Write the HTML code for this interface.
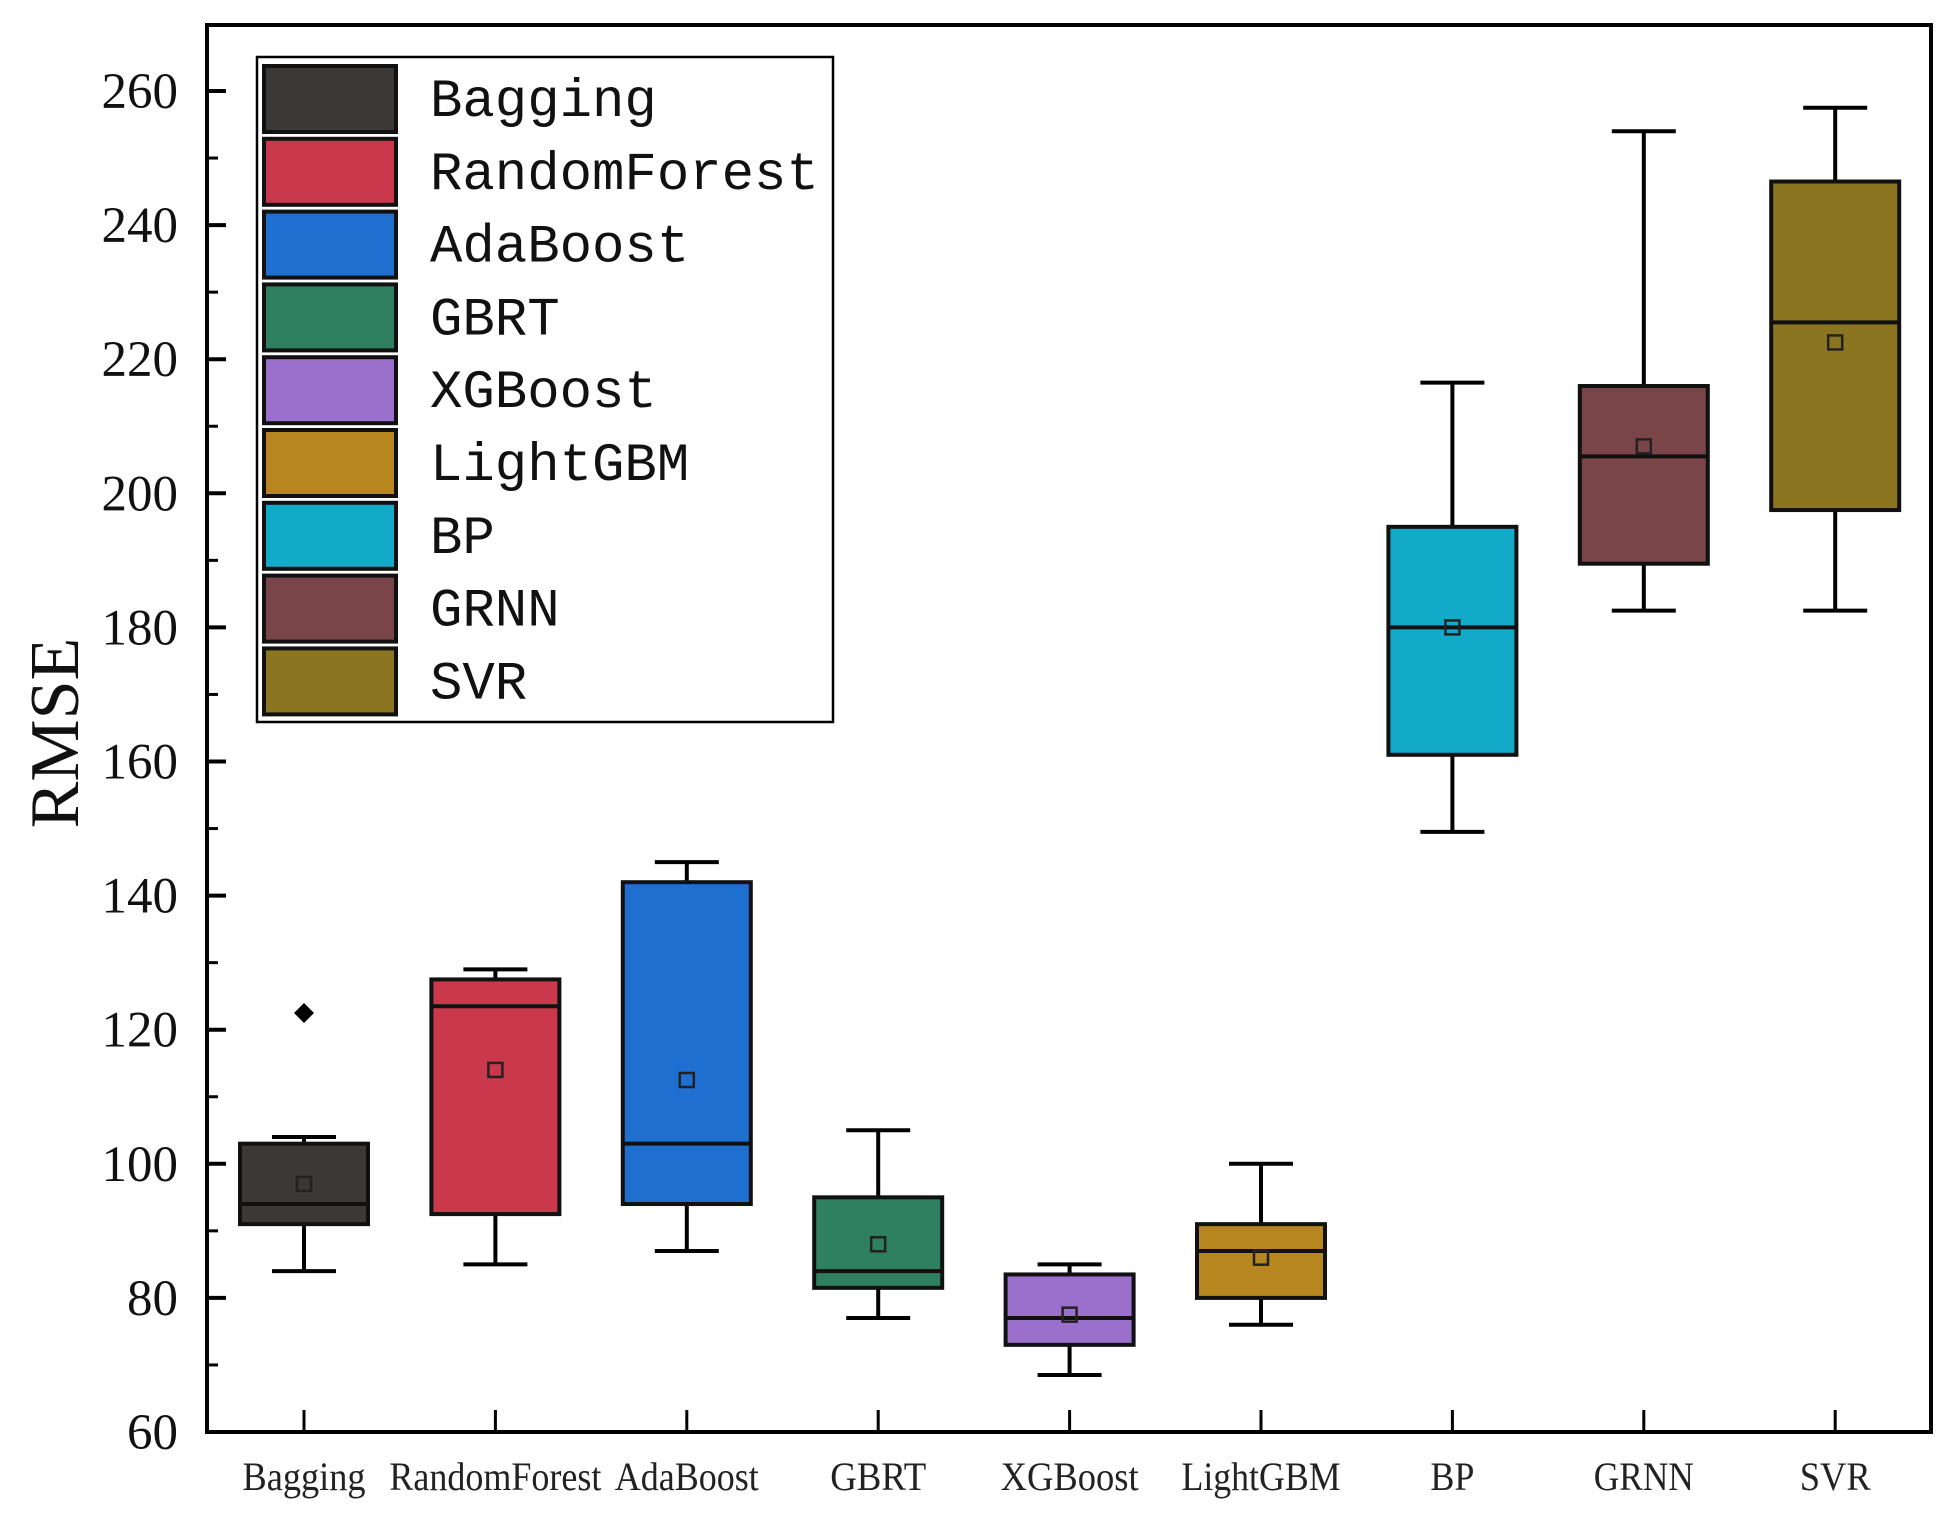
<!DOCTYPE html>
<html><head><meta charset="utf-8"><style>
html,body{margin:0;padding:0;background:#fff;}
svg{display:block;}
</style></head><body>
<svg id="chart" width="1955" height="1528" viewBox="0 0 1955 1528" xmlns="http://www.w3.org/2000/svg"></svg>
<script>
const categories = ["Bagging","RandomForest","AdaBoost","GBRT","XGBoost","LightGBM","BP","GRNN","SVR"];
const xLabels = ["Bagging","RandomForest","AdaBoost","GBRT","XGBoost","LightGBM","BP","GRNN","SVR"];
const whiskerHigh = [104,129,145,105,85,100,216.5,254,257.5];
const q3Values = [103,127.5,142,95,83.5,91,195,216,246.5];
const medianValues = [94,123.5,103,84,77,87,180,205.5,225.5];
const q1Values = [91,92.5,94,81.5,73,80,161,189.5,197.5];
const whiskerLow = [84,85,87,77,68.5,76,149.5,182.5,182.5];
const meanValues = [97,114,112.5,88,77.5,86,180,207,222.5];
const outlierValues = [[122.5],[],[],[],[],[],[],[],[]];
const colors = ["#3b3838","#c9394b","#1f6fd1","#2e8061","#9b70cc","#b8861f","#13a9c9","#7a4549","#8b7521"];
const yTicks = [60,80,100,120,140,160,180,200,220,240,260];
const yMinor = [70,90,110,130,150,170,190,210,230,250];

const NS="http://www.w3.org/2000/svg";
const svg=document.getElementById('chart');
const L=207,R=1931,T=25,B=1432;
const yMin=60,yMax=260,yTop=91;
const labelWidthStyle=[123,212,144,96,138,159,44,100,71];
function yS(v){return B-(v-yMin)*(B-yTop)/(yMax-yMin);}
function xS(i){return 304+i*191.4;}
function mk(tag,attrs,parent){const e=document.createElementNS(NS,tag);for(const k in attrs)e.setAttribute(k,attrs[k]);(parent||svg).appendChild(e);return e;}

const frame=mk('rect',{x:L,y:T,width:R-L,height:B-T,fill:'none',stroke:'#000','stroke-width':4});



yTicks.forEach(v=>{
  const t=mk('line',{x1:L,x2:L+19,y1:yS(v),y2:yS(v),stroke:'#000','stroke-width':4});
  
  
  const lb=mk('text',{x:178,y:yS(v)+17,'text-anchor':'end','font-family':'Liberation Serif, serif','font-size':51,fill:'#111'});
  lb.textContent=v;
  
  
});
yMinor.forEach(v=>{
  const t=mk('line',{x1:L,x2:L+11,y1:yS(v),y2:yS(v),stroke:'#000','stroke-width':3});
  
  
});
const yt=mk('text',{x:0,y:0,transform:'translate(78,733) rotate(-90)','text-anchor':'middle','font-family':'Liberation Serif, serif','font-size':70,fill:'#111'});
yt.textContent='RMSE';



const bw=128,cap=64;
categories.forEach((c,i)=>{
  const g=mk('g',{});
  
  
  const x=xS(i);
  mk('line',{x1:x,x2:x,y1:yS(whiskerHigh[i]),y2:yS(q3Values[i]),stroke:'#000','stroke-width':4},g);
  mk('line',{x1:x,x2:x,y1:yS(q1Values[i]),y2:yS(whiskerLow[i]),stroke:'#000','stroke-width':4},g);
  mk('line',{x1:x-cap/2,x2:x+cap/2,y1:yS(whiskerHigh[i]),y2:yS(whiskerHigh[i]),stroke:'#000','stroke-width':4},g);
  mk('line',{x1:x-cap/2,x2:x+cap/2,y1:yS(whiskerLow[i]),y2:yS(whiskerLow[i]),stroke:'#000','stroke-width':4},g);
  mk('rect',{x:x-bw/2,y:yS(q3Values[i]),width:bw,height:yS(q1Values[i])-yS(q3Values[i]),fill:colors[i],stroke:'#111','stroke-width':4},g);
  mk('line',{x1:x-bw/2,x2:x+bw/2,y1:yS(medianValues[i]),y2:yS(medianValues[i]),stroke:'#111','stroke-width':4},g);
  mk('rect',{x:x-7,y:yS(meanValues[i])-7,width:14,height:14,fill:'none',stroke:'#222','stroke-width':2.5},g);
  outlierValues[i].forEach(v=>{
    const o=mk('path',{d:`M${x} ${yS(v)-10} L${x+10} ${yS(v)} L${x} ${yS(v)+10} L${x-10} ${yS(v)} Z`,fill:'#000'},g);
    
    
  });
  const xt=mk('line',{x1:x,x2:x,y1:B,y2:B-22,stroke:'#000','stroke-width':3});
  
  
  const lb=mk('text',{x:x,y:1490,'text-anchor':'middle','font-family':'Liberation Serif, serif','font-size':40,fill:'#222'});
  lb.textContent=xLabels[i];
  
  
  lb.setAttribute('textLength',labelWidthStyle[i]);
  lb.setAttribute('lengthAdjust','spacingAndGlyphs');
});

const lg=mk('g',{});


mk('rect',{x:257,y:57,width:576,height:665,fill:'#fff',stroke:'#000','stroke-width':2.5},lg);
categories.forEach((c,i)=>{
  const e=mk('g',{},lg);
  
  
  const y0=66+i*72.8;
  mk('rect',{x:264,y:y0,width:132,height:66,fill:colors[i],stroke:'#111','stroke-width':4},e);
  const t=mk('text',{x:430,y:y0+50,'font-family':'Liberation Mono, monospace','font-size':54,fill:'#111'},e);
  t.textContent=c;
});
</script>
</body></html>
